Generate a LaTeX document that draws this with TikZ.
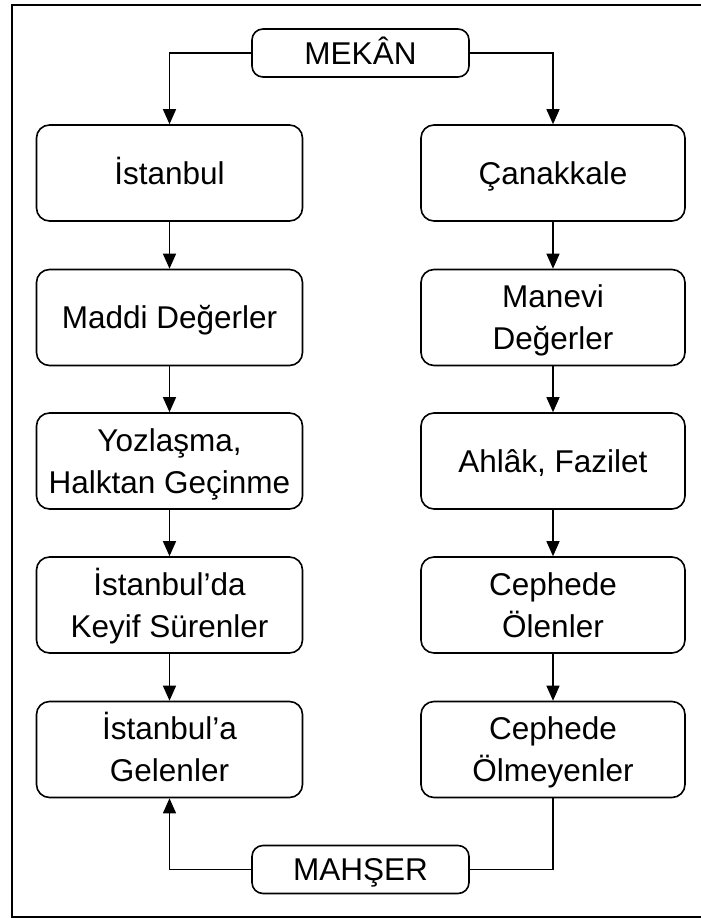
\documentclass[tikz,border=0pt]{standalone}
\usepackage{fontspec}
\setmainfont{Liberation Sans}
\usetikzlibrary{arrows.meta}
% each label line carries the same invisible rule so all boxes centre their text alike
\newcommand{\lbl}[1]{\rule[-8.5pt]{0pt}{39.5pt}#1}
\begin{document}
\begin{tikzpicture}[x=1pt,y=-1pt,
  every node/.style={font=\fontsize{31.5}{42}\selectfont, align=center, inner sep=0pt},
  box/.style={draw, line width=1.6pt, rounded corners=13pt, minimum width=266pt, minimum height=96pt},
  tag/.style={draw, line width=1.6pt, rounded corners=11pt, minimum width=217pt, minimum height=48pt},
  link/.style={line width=1.3pt, -{Triangle[width=13pt,length=15pt]}},
  plain/.style={line width=1.3pt}]
\useasboundingbox (0,0) rectangle (701,918);
\draw[line width=1.8pt] (12,4.7) rectangle (720,917);

% header and footer
\node[tag] (mekan) at (360.5,53) {\lbl{MEKÂN}};
\node[tag] (mahser) at (360.5,869.5) {\lbl{MAHŞER}};

% left column
\node[box] (l1) at (169.5,173) {\lbl{İstanbul}};
\node[box] (l2) at (169.5,317.5) {\lbl{Maddi Değerler}};
\node[box] (l3) at (169.5,461) {\lbl{Yozlaşma,}\\\lbl{Halktan Geçinme}};
\node[box] (l4) at (169.5,605) {\lbl{İstanbul’da}\\\lbl{Keyif Sürenler}};
\node[box] (l5) at (169.5,749.5) {\lbl{İstanbul’a}\\\lbl{Gelenler}};

% right column
\node[box, minimum width=264pt] (r1) at (553,173) {\lbl{Çanakkale}};
\node[box, minimum width=264pt] (r2) at (553,317.5) {\lbl{Manevi}\\\lbl{Değerler}};
\node[box, minimum width=264pt] (r3) at (553,461) {\lbl{Ahlâk, Fazilet}};
\node[box, minimum width=264pt] (r4) at (553,605) {\lbl{Cephede}\\\lbl{Ölenler}};
\node[box, minimum width=264pt] (r5) at (553,749.5) {\lbl{Cephede}\\\lbl{Ölmeyenler}};

% connectors
\draw[link] (mekan.west) -| (l1.north);
\draw[link] (mekan.east) -| (r1.north);
\draw[link] (l1) -- (l2);
\draw[link] (l2) -- (l3);
\draw[link] (l3) -- (l4);
\draw[link] (l4) -- (l5);
\draw[link] (r1) -- (r2);
\draw[link] (r2) -- (r3);
\draw[link] (r3) -- (r4);
\draw[link] (r4) -- (r5);
\draw[plain] (r5.south) |- (mahser.east);
\draw[link] (mahser.west) -| (l5.south);
\end{tikzpicture}
\end{document}
